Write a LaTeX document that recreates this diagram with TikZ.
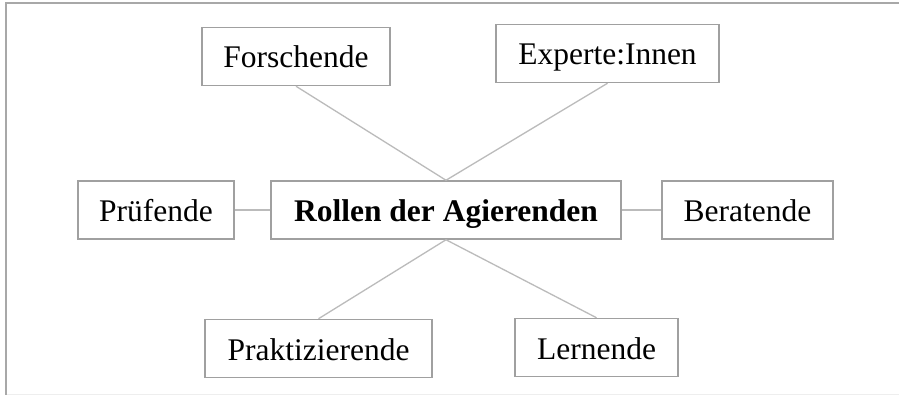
\documentclass[tikz,border=0pt]{standalone}
\usepackage{fontspec}
\setmainfont{Liberation Serif}
\definecolor{boxgray}{HTML}{A0A0A0}
\definecolor{linegray}{HTML}{BBBBBB}
\definecolor{framegray}{HTML}{A8A8A8}
\definecolor{faintgray}{HTML}{EEEEEE}
\tikzset{
  rolebox/.style={draw=boxgray, line width=1.5pt, rectangle, inner sep=0pt,
    minimum height=58pt, text height=23pt, text depth=0pt,
    font=\fontsize{31.5}{36}\selectfont, text=black},
  link/.style={draw=linegray, line width=1.3pt}
}
\begin{document}
\begin{tikzpicture}[x=1pt,y=-1pt]
\useasboundingbox (0,0) rectangle (899,395);
\fill[white] (0,0) rectangle (899,395);
% frame
\draw[faintgray, line width=1pt] (6,394) -- (899,394);
\draw[framegray, line width=2.2pt] (6,395) -- (6,3) -- (899,3);
% nodes
\node[rolebox, minimum width=188pt] (forsch) at (296,56.5) {Forschende};
\node[rolebox, minimum width=223pt] (expert) at (607.5,53.5) {Experte:Innen};
\node[rolebox, minimum width=156pt] (pruef) at (156,210) {Prüfende};
\node[rolebox, minimum width=350pt, font=\fontsize{31.5}{36}\selectfont\bfseries] (center) at (446,210) {Rollen der Agierenden};
\node[rolebox, minimum width=171pt] (berat) at (747.5,210) {Beratende};
\node[rolebox, minimum width=227pt] (prakt) at (318.5,348.5) {Praktizierende};
\node[rolebox, minimum width=163pt] (lern) at (596.5,347.5) {Lernende};
% connectors
\draw[link] (forsch.south) -- (center.north);
\draw[link] (expert.south) -- (center.north);
\draw[link] (pruef.east) -- (center.west);
\draw[link] (center.east) -- (berat.west);
\draw[link] (center.south) -- (prakt.north);
\draw[link] (center.south) -- (lern.north);
\end{tikzpicture}
\end{document}
